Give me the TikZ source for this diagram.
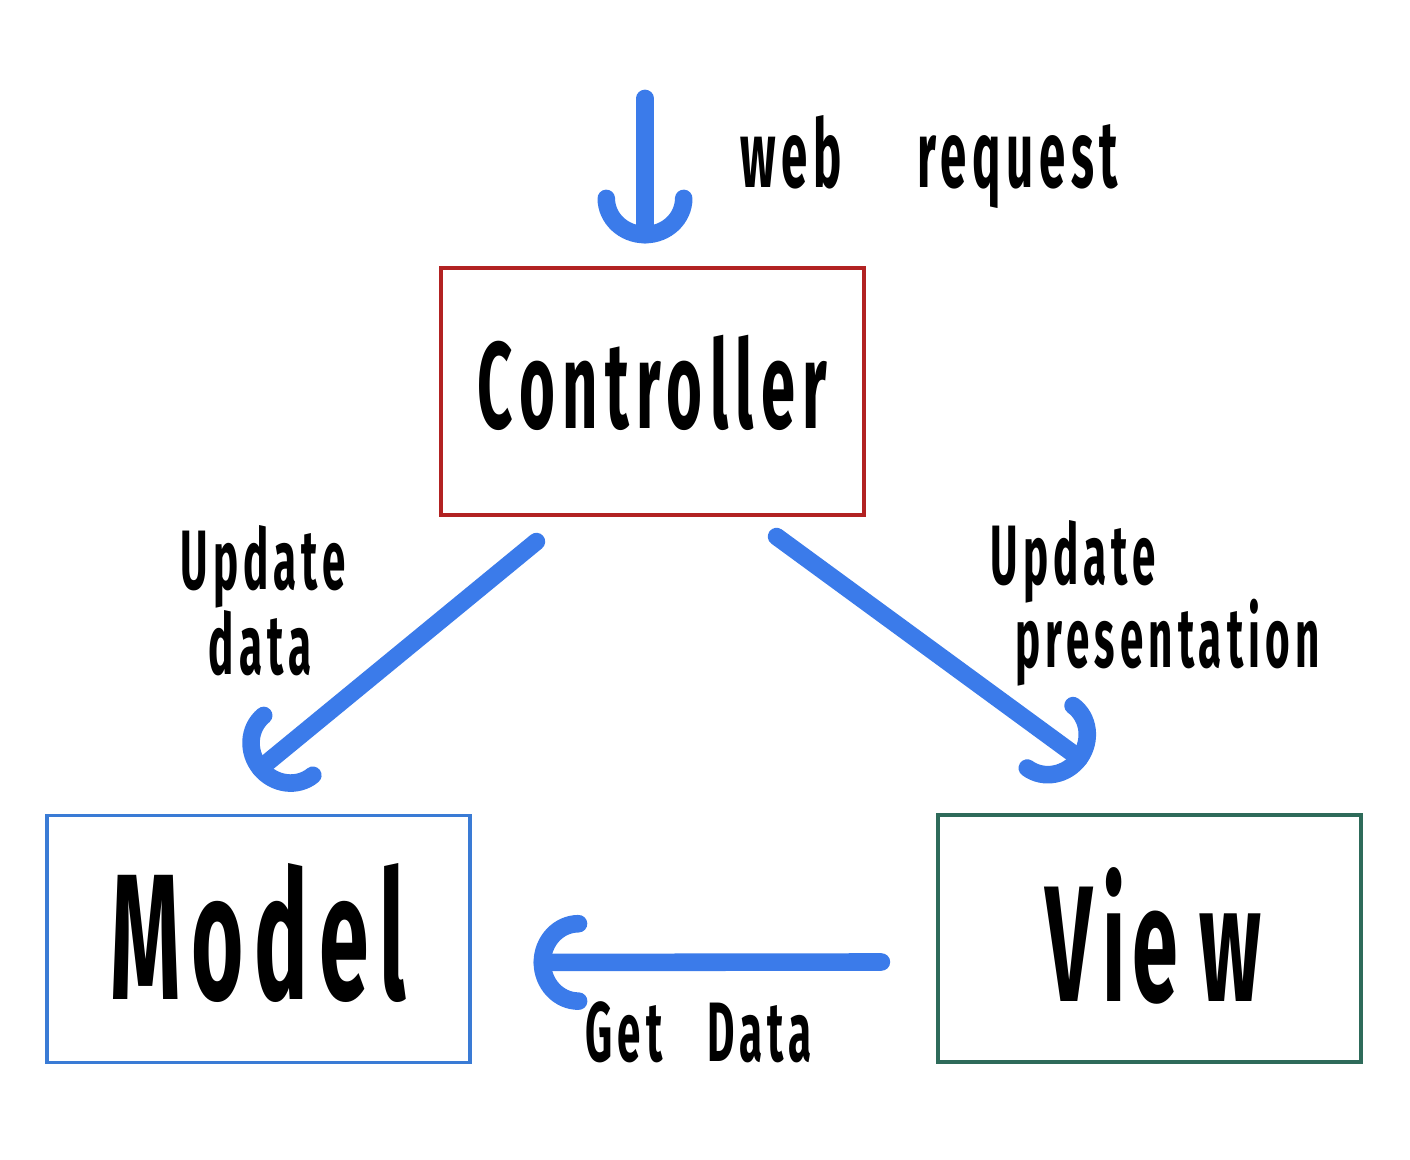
\documentclass[tikz,border=0pt]{standalone}
\usepackage{fontspec}
\usepackage{tikz}
\usetikzlibrary{arrows.meta, calc, positioning}
\newfontfamily\hand[FakeStretch=0.5, LetterSpace=6]{Fira Sans}
\definecolor{flowblue}{HTML}{3B7BEA}
\definecolor{ctrlred}{HTML}{B22222}
\definecolor{modelblue}{HTML}{3A7BD5}
\definecolor{viewgreen}{HTML}{2E6B5A}

\begin{document}
\begin{tikzpicture}[
    box/.style={draw, line width=0.9pt, minimum width=4.23cm, minimum height=2.47cm, inner sep=0pt, font=\hand\bfseries},
    flow/.style={draw=flowblue, line width=5pt, line cap=round, -{Arc Barb[length=0.45cm, width=0.95cm, line cap=round]}},
    note/.style={inner sep=0pt, font=\hand\bfseries\fontsize{24}{27}\selectfont, align=left}
]
    % fixed page size
    \useasboundingbox (0,0) rectangle (14.1,11.6);

    \node[box, draw=ctrlred] (ctrl) at (6.525,7.685) {\fontsize{35}{40}\selectfont\raisebox{2mm}{Controller}};
    \node[box, draw=modelblue] (model) at (2.585,2.21) {\fontsize{51}{54}\selectfont\raisebox{1.5mm}{Model}};
    \node[box, draw=viewgreen] (view) at (11.495,2.215) {\fontsize{47}{48}\selectfont\raisebox{0.8mm}{\kern2pt Vi\kern2pt e\kern6pt w}};

    \coordinate (req) at ($(ctrl.north)+(-0.075,1.68)$);

    \draw[flow] (req) -- ($(ctrl.north)+(-0.075,0.23)$);
    \draw[flow] ($(ctrl.south west)+(0.97,-0.25)$) -- ($(model.north)+(-0.05,0.4)$);
    \draw[flow] ($(ctrl.south east)+(-0.89,-0.2)$) -- ($(view.north)+(-0.63,0.5)$);
    \draw[flow] ($(view.west)+(-0.55,-0.235)$) -- ($(model.east)+(0.62,-0.235)$);

    \node[note, anchor=base west] (lreq) at (7.40,9.72) {\fontsize{27}{29}\selectfont web\hspace{0.75cm}request};
    \node[note, anchor=north west] (lupd) at (1.8,6.35) {Update\\[-0.1cm]\hspace*{0.28cm}data};
    \node[note, anchor=north west] (lpres) at (9.9,6.4) {Update\\[-0.12cm]\hspace*{0.25cm}presentation};
    \node[note, anchor=base west] (lget) at (5.85,0.98) {Get\hspace{0.45cm}Data};
\end{tikzpicture}
\end{document}
